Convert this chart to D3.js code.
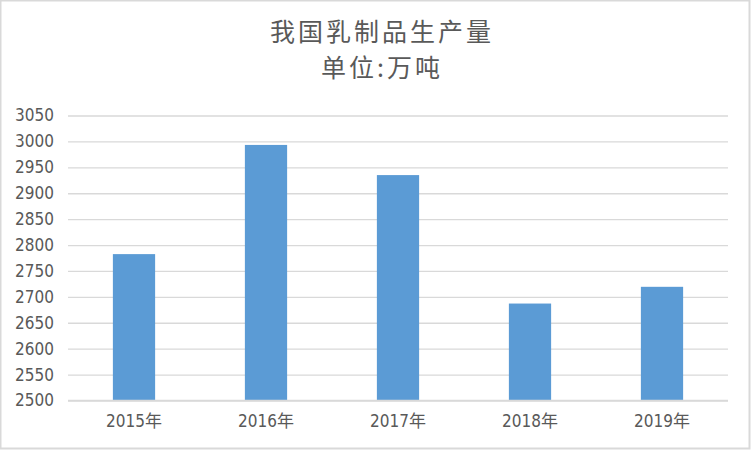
<!DOCTYPE html>
<html>
<head>
<meta charset="utf-8">
<script src="https://cdn.jsdelivr.net/npm/d3@7"></script>
<style>
  body { margin: 0; background: #fff; }
</style>
</head>
<body>
<div class="chart-holder"></div>
<script>
const years = ['2015年', '2016年', '2017年', '2018年', '2019年'];
const output = [2782.5, 2993.2, 2935.0, 2687.1, 2719.4];
const yTicks = [2500, 2550, 2600, 2650, 2700, 2750, 2800, 2850, 2900, 2950, 3000, 3050];
const titleLines = ['我国乳制品生产量', '单位:万吨'];

const W = 752, H = 452;
const margin = {top: 115.5, right: 24, bottom: 51.5, left: 68};
const w = W - margin.left - margin.right;
const h = H - margin.top - margin.bottom;
const labelFont = '"Liberation Sans Narrow", "DejaVu Sans Condensed", "Noto Sans CJK SC", sans-serif';

const svg = d3.select('.chart-holder')
  .append('svg')
  .attr('width', W)
  .attr('height', H);

// chart frame
svg.append('rect')
  .attr('x', 0.5).attr('y', 0.5)
  .attr('width', W - 3).attr('height', H - 4)
  .attr('fill', '#fff')
  .attr('stroke', '#d9d9d9')
  .attr('stroke-width', 2);

svg.append('g')
  .selectAll('text')
  .data(titleLines)
  .enter().append('text')
    .attr('x', 382)
    .attr('y', (d, i) => 41 + i * 36)
    .attr('text-anchor', 'middle')
    .attr('fill', '#595959')
    .style('font-family', '"Noto Sans CJK SC", sans-serif')
    .style('font-size', '25px')
    .style('letter-spacing', '3px')
    .text(d => d);

const g = svg.append('g')
  .attr('transform', `translate(${margin.left},${margin.top})`);

const xScale = d3.scaleBand()
  .domain(years)
  .range([0, w])
  .paddingInner(0.68)
  .paddingOuter(0.34);

const yScale = d3.scaleLinear()
  .domain([2500, 3050])
  .range([h, 0]);

// gridlines
g.append('g')
  .call(d3.axisLeft(yScale).tickValues(yTicks).tickSize(-w).tickFormat(d => d).tickPadding(14))
  .call(ax => ax.select('.domain').remove())
  .call(ax => ax.selectAll('line').attr('stroke', '#d9d9d9').attr('stroke-width', 1.3))
  .call(ax => ax.selectAll('text')
    .attr('fill', '#595959')
    .style('font-family', labelFont)
    .style('font-size', '17px'));

g.selectAll('rect.bar')
  .data(output)
  .enter().append('rect')
    .attr('class', 'bar')
    .attr('x', (d, i) => xScale(years[i]))
    .attr('y', d => yScale(d))
    .attr('width', xScale.bandwidth())
    .attr('height', d => h - yScale(d))
    .attr('fill', '#5b9bd5');

// baseline
g.append('line')
  .attr('x1', 0).attr('x2', w)
  .attr('y1', h).attr('y2', h)
  .attr('stroke', '#d9d9d9')
  .attr('stroke-width', 1.3);

g.append('g')
  .attr('transform', `translate(0,${h})`)
  .call(d3.axisBottom(xScale).tickSize(0).tickPadding(14))
  .call(ax => ax.select('.domain').remove())
  .call(ax => ax.selectAll('text')
    .attr('fill', '#595959')
    .style('font-family', labelFont)
    .style('font-size', '17px'));
</script>
</body>
</html>
